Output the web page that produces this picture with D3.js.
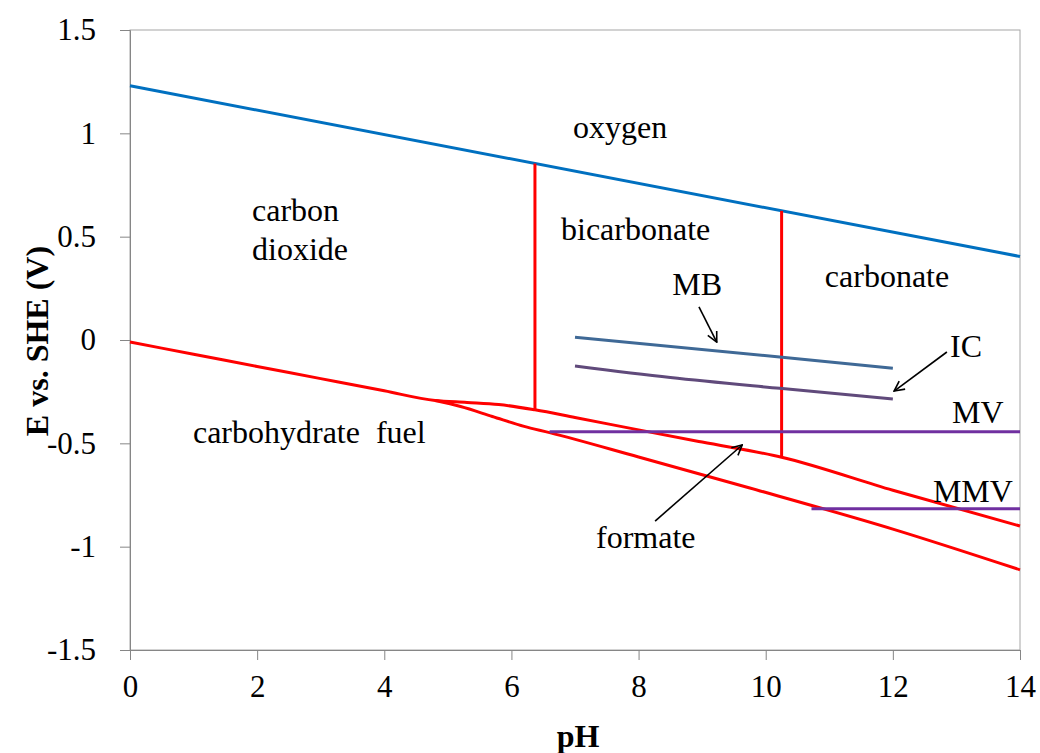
<!DOCTYPE html>
<html>
<head>
<meta charset="utf-8">
<script src="https://cdn.jsdelivr.net/npm/d3@7"></script>
<style>
  body { margin: 0; background: #fff; }
  text { font-family: "Liberation Serif", "Times New Roman", serif; }
</style>
</head>
<body>
<svg width="1040" height="753"></svg>
<script>
var svg = d3.select("svg");

// data (pH, E in V)
var oxygenLine = [[0, 1.23], [14, 0.404]];
var upperFuel = [[0, -0.01], [1, -0.069], [2, -0.128], [3, -0.187], [4, -0.246], [4.8, -0.293], [5.3, -0.302], [5.8, -0.312], [6.37, -0.338], [7, -0.375], [8, -0.435], [9, -0.494], [10.25, -0.567], [12, -0.727], [14, -0.90]];
var lowerFuel = [[4.8, -0.293], [5.2, -0.322], [5.7, -0.370], [6.2, -0.418], [6.6, -0.448], [8, -0.566], [9.75, -0.716], [12, -0.915], [14, -1.112]];
var phaseBounds = [[[6.37, 0.854], [6.37, -0.338]], [[10.25, 0.625], [10.25, -0.567]]];
var mbLine = [[7, 0.013], [10.22, -0.082], [12, -0.137]];
var icLine = [[7, -0.126], [8.5, -0.182], [10.22, -0.234], [12, -0.285]];
var mvLine = [[6.6, -0.444], [14, -0.444]];
var mmvLine = [[10.72, -0.817], [14, -0.817]];

var labels = [
  {t: "oxygen", x: 6.97, y: 0.977},
  {t: "carbon", x: 1.92, y: 0.576},
  {t: "dioxide", x: 1.92, y: 0.387},
  {t: "bicarbonate", x: 6.78, y: 0.484},
  {t: "MB", x: 8.53, y: 0.218},
  {t: "carbonate", x: 10.93, y: 0.256},
  {t: "IC", x: 12.90, y: -0.082},
  {t: "MV", x: 12.93, y: -0.402},
  {t: "MMV", x: 12.63, y: -0.784},
  {t: "carbohydrate\u00a0 fuel", x: 0.99, y: -0.498},
  {t: "formate", x: 7.33, y: -1.006}
];
var arrows = [
  [[8.95, 0.160], [9.23, -0.010]],
  [[12.85, -0.058], [12.02, -0.247]],
  [[8.26, -0.876], [9.63, -0.508]]
];

var xTicks = [0, 2, 4, 6, 8, 10, 12, 14];
var yTicks = [-1.5, -1, -0.5, 0, 0.5, 1, 1.5];

var plotL = 130, plotR = 1020, plotT = 30, plotB = 650;

var x = d3.scaleLinear().domain([0, 14]).range([plotL, plotR]);
var y = d3.scaleLinear().domain([-1.5, 1.5]).range([plotB, plotT]);

var line = d3.line().x(function(d) { return x(d[0]); }).y(function(d) { return y(d[1]); });
var curve = d3.line().curve(d3.curveMonotoneX).x(function(d) { return x(d[0]); }).y(function(d) { return y(d[1]); });

// plot border
svg.append("rect")
  .attr("x", plotL).attr("y", plotT)
  .attr("width", plotR - plotL).attr("height", plotB - plotT)
  .attr("fill", "none").attr("stroke", "#a6a6a6").attr("stroke-width", 1);

// axes
var xAxis = svg.append("g")
  .attr("transform", "translate(0," + plotB + ")")
  .call(d3.axisBottom(x).tickValues(xTicks).tickSize(10).tickPadding(8).tickFormat(d3.format("d")));
var yAxis = svg.append("g")
  .attr("transform", "translate(" + plotL + ",0)")
  .call(d3.axisLeft(y).tickValues(yTicks).tickSize(10).tickPadding(24).tickFormat(function(d) { return String(d); }));

[xAxis, yAxis].forEach(function(a) {
  a.select(".domain").attr("stroke", "#868686");
  a.selectAll(".tick line").attr("stroke", "#868686");
  a.selectAll(".tick text")
    .attr("font-family", "Liberation Serif, Times New Roman, serif")
    .attr("font-size", 31).attr("fill", "#000");
});
xAxis.selectAll(".tick text").attr("dy", "0.95em");

// lines
svg.append("path").attr("d", line(oxygenLine))
  .attr("fill", "none").attr("stroke", "#0070c0").attr("stroke-width", 3);

svg.append("path").attr("d", curve(upperFuel))
  .attr("fill", "none").attr("stroke", "#ff0000").attr("stroke-width", 3);
svg.append("path").attr("d", curve(lowerFuel))
  .attr("fill", "none").attr("stroke", "#ff0000").attr("stroke-width", 3);

svg.selectAll(".bound").data(phaseBounds).enter().append("path")
  .attr("class", "bound")
  .attr("d", line)
  .attr("fill", "none").attr("stroke", "#ff0000").attr("stroke-width", 3);

svg.append("path").attr("d", curve(mbLine))
  .attr("fill", "none").attr("stroke", "#3f6996").attr("stroke-width", 3);
svg.append("path").attr("d", curve(icLine))
  .attr("fill", "none").attr("stroke", "#604a7b").attr("stroke-width", 3);
svg.append("path").attr("d", line(mvLine))
  .attr("fill", "none").attr("stroke", "#7030a0").attr("stroke-width", 3);
svg.append("path").attr("d", line(mmvLine))
  .attr("fill", "none").attr("stroke", "#7030a0").attr("stroke-width", 3);

// arrows
svg.append("defs").append("marker")
  .attr("id", "head")
  .attr("viewBox", "0 0 12 12")
  .attr("refX", 11).attr("refY", 6)
  .attr("markerWidth", 12).attr("markerHeight", 12)
  .attr("markerUnits", "userSpaceOnUse")
  .attr("orient", "auto")
  .append("path")
  .attr("d", "M1,1 L11,6 L1,11")
  .attr("fill", "none").attr("stroke", "#000").attr("stroke-width", 1.6);

svg.selectAll(".arrow").data(arrows).enter().append("path")
  .attr("class", "arrow")
  .attr("d", line)
  .attr("fill", "none").attr("stroke", "#000").attr("stroke-width", 1.6)
  .attr("marker-end", "url(#head)");

// region labels
svg.selectAll(".lbl").data(labels).enter().append("text")
  .attr("class", "lbl")
  .attr("x", function(d) { return x(d.x); })
  .attr("y", function(d) { return y(d.y); })
  .attr("font-size", 32)
  .attr("fill", "#000")
  .text(function(d) { return d.t; });

// axis titles
svg.append("text")
  .attr("x", 578).attr("y", 747)
  .attr("text-anchor", "middle")
  .attr("font-size", 32).attr("font-weight", "bold")
  .text("pH");
svg.append("text")
  .attr("transform", "translate(48,341) rotate(-90)")
  .attr("text-anchor", "middle")
  .attr("font-size", 32).attr("font-weight", "bold")
  .text("E vs. SHE (V)");
</script>
</body>
</html>
